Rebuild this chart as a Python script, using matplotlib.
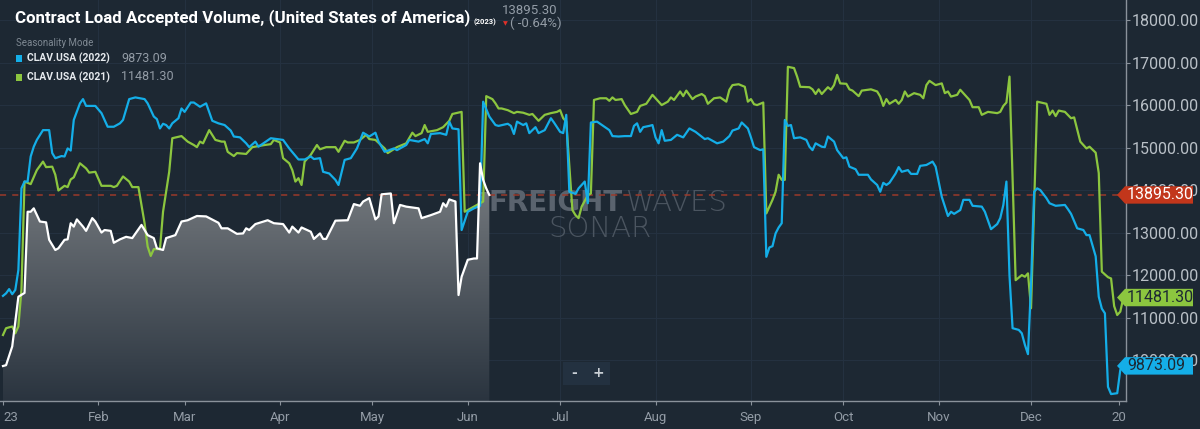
import numpy as np
import matplotlib as mpl
import matplotlib.pyplot as plt
from matplotlib.patches import Polygon, Rectangle
from matplotlib.transforms import blended_transform_factory
from matplotlib.colors import LinearSegmentedColormap

# day of year 2023 (0 = Jan 1) and contract load accepted volume
days_2023 = [0, 1, 3, 5, 7, 8, 9, 10, 12, 14, 15, 17, 18, 20, 21, 22, 23, 24, 26, 27,
             29, 30, 32, 33, 35, 36, 38, 40, 42, 45, 47, 49, 50, 52, 53, 56, 58, 60, 63, 66,
             70, 71, 73, 76, 78, 79, 80, 82, 86, 88, 91, 93, 94, 96, 97, 100, 101, 103, 104, 105,
             108, 112, 114, 116, 117, 119, 121, 122, 123, 126, 127, 129, 131, 135, 136, 139, 142, 143, 144, 145,
             147, 148, 149, 151, 153, 154, 155, 156, 157, 158]
clav_2023 = [9870, 9890, 10330, 11500, 11590, 13500, 13500, 13580, 13270, 13250,
             12840, 12600, 12640, 12840, 12850, 13230, 13150, 13320, 13150, 13050,
             13350, 13270, 13010, 13070, 13050, 12770, 12850, 12910, 12880, 13190,
             12950, 12880, 12640, 12600, 12880, 12950, 13270, 13300, 13400, 13390,
             13240, 13110, 13110, 12980, 12990, 13110, 13070, 13210, 13300, 13230,
             13210, 13010, 13150, 13010, 13130, 13030, 12860, 12990, 12860, 12860,
             13290, 13300, 13680, 13640, 13740, 13820, 13320, 13390, 13910, 13930,
             13230, 13660, 13620, 13580, 13350, 13420, 13500, 13700, 13620, 13790,
             13740, 11540, 11970, 12370, 12400, 12400, 14640, 14250, 14050, 13895.30]

days_2022 = [0, 1, 2, 3, 4, 5, 6, 7, 8, 9, 10, 11, 13, 15, 16, 17, 19, 20, 21, 22,
             23, 25, 26, 27, 30, 32, 34, 36, 38, 39, 41, 43, 46, 47, 49, 50, 51, 52, 53, 54,
             55, 57, 58, 59, 61, 62, 64, 66, 68, 70, 72, 74, 75, 77, 79, 80, 82, 83, 87, 91,
             93, 96, 98, 100, 101, 103, 104, 106, 108, 109, 111, 113, 115, 117, 119, 121, 122, 124, 127, 128,
             131, 132, 135, 137, 138, 139, 142, 144, 145, 146, 148, 149, 151, 153, 155, 156, 158, 160, 161, 164,
             165, 166, 167, 169, 170, 171, 173, 174, 176, 178, 179, 181, 182, 183, 184, 186, 187, 189, 190, 191,
             193, 195, 197, 198, 200, 202, 204, 205, 206, 207, 208, 210, 211, 212, 213, 214, 215, 217, 219, 221,
             223, 225, 228, 229, 231, 232, 234, 236, 237, 239, 240, 242, 243, 244, 246, 247, 248, 249, 250, 251,
             252, 253, 254, 255, 256, 257, 259, 261, 262, 263, 264, 266, 267, 268, 270, 271, 273, 274, 275, 277,
             278, 281, 282, 284, 285, 286, 287, 288, 290, 291, 292, 294, 295, 297, 298, 300, 302, 303, 305, 307,
             308, 309, 311, 312, 314, 315, 318, 319, 321, 323, 324, 325, 326, 327, 328, 330, 331, 332, 333, 334,
             335, 336, 337, 339, 340, 342, 345, 346, 347, 349, 351, 352, 353, 355, 356, 357, 358, 359, 360, 362,
             363, 364]
clav_2022 = [11520, 11580, 11680, 11560, 11660, 12130, 14050, 14210, 14210, 14800,
             15030, 15190, 15420, 15420, 14880, 14760, 14810, 14800, 14990, 14940,
             15660, 16050, 16150, 15990, 15990, 15820, 15500, 15500, 15580, 15660,
             16150, 16190, 16150, 16050, 15740, 15680, 15460, 15570, 15540, 15460,
             15580, 15700, 15930, 15850, 16070, 16070, 15970, 16050, 15640, 15580,
             15540, 15410, 15270, 15250, 15110, 15020, 15150, 15030, 15230, 15190,
             14990, 14730, 14730, 14800, 14740, 14760, 14440, 14400, 14250, 14130,
             14720, 14760, 14990, 15360, 15270, 15360, 15150, 14910, 14990, 14950,
             15070, 15190, 15150, 15210, 15110, 15330, 15350, 15310, 15620, 15460,
             15440, 13070, 13500, 13580, 13640, 16090, 15740, 15540, 15520, 15570,
             15520, 15330, 15620, 15540, 15580, 15350, 15490, 15350, 15420, 15700,
             15600, 15380, 15350, 15780, 13970, 13920, 14050, 14210, 13700, 15600,
             15620, 15520, 15420, 15280, 15270, 15280, 15280, 15520, 15580, 15380,
             15490, 15520, 15540, 15250, 15110, 15420, 15170, 15190, 15310, 15250,
             15460, 15380, 15210, 15230, 15150, 15110, 15150, 15280, 15410, 15460,
             15600, 15460, 15250, 15020, 14950, 14970, 12440, 12660, 12690, 12990,
             13130, 13230, 15660, 15520, 15540, 15230, 15250, 15190, 15030, 14950,
             15110, 15030, 15020, 15270, 15150, 14950, 14760, 14780, 14560, 14500,
             14370, 14370, 14260, 14130, 13970, 14180, 14130, 14180, 14400, 14550,
             14440, 14480, 14390, 14390, 14580, 14600, 14680, 14560, 13850, 13400,
             13500, 13450, 13540, 13780, 13780, 13640, 13620, 13500, 13090, 13210,
             13350, 13660, 14210, 12000, 10760, 10720, 10640, 10370, 10150, 11800,
             13970, 14050, 14010, 13820, 13700, 13640, 13660, 13560, 13450, 13110,
             13070, 12950, 12950, 12450, 11500, 11220, 11110, 9380, 9210, 9230,
             9780, 9873.09]

days_2021 = [0, 1, 3, 4, 5, 6, 7, 9, 11, 13, 14, 16, 17, 18, 20, 21, 22, 23, 25, 27,
             28, 30, 32, 35, 36, 37, 39, 41, 42, 44, 46, 47, 48, 49, 51, 52, 54, 55, 58, 60,
             62, 63, 64, 65, 67, 69, 71, 72, 73, 75, 76, 79, 80, 81, 85, 87, 88, 90, 91, 93,
             94, 95, 96, 97, 98, 100, 102, 103, 105, 108, 109, 111, 112, 114, 116, 118, 119, 121, 124, 125,
             128, 131, 133, 134, 136, 137, 138, 141, 143, 145, 146, 149, 150, 152, 153, 155, 156, 157, 159, 160,
             161, 162, 164, 166, 167, 169, 171, 172, 174, 176, 178, 180, 181, 182, 183, 185, 186, 187, 188, 190,
             191, 192, 194, 196, 197, 198, 199, 201, 202, 204, 206, 207, 209, 211, 213, 214, 216, 217, 218, 220,
             221, 222, 224, 225, 227, 228, 229, 231, 233, 235, 236, 237, 239, 241, 242, 243, 244, 245, 246, 247,
             248, 250, 251, 252, 253, 254, 255, 257, 258, 259, 262, 263, 264, 265, 266, 268, 269, 270, 271, 272,
             274, 275, 276, 278, 279, 282, 284, 285, 286, 287, 288, 290, 291, 292, 293, 294, 296, 298, 299, 300,
             301, 303, 305, 306, 307, 308, 310, 311, 312, 314, 315, 317, 318, 320, 323, 324, 325, 326, 327, 329,
             331, 332, 333, 334, 336, 339, 340, 341, 342, 343, 345, 347, 348, 350, 352, 353, 355, 356, 357, 359,
             360, 361, 362, 363, 364]
clav_2021 = [10600, 10760, 10800, 10640, 10800, 11660, 14210, 14150, 14480, 14680,
             14550, 14560, 14370, 14000, 14110, 14080, 14260, 14310, 14640, 14520,
             14420, 14440, 14110, 14110, 14080, 14110, 14330, 14210, 14080, 14080,
             13230, 12680, 12460, 12620, 12620, 13500, 14440, 15230, 15280, 15150,
             15070, 15020, 15150, 15110, 15420, 15190, 15150, 15150, 14910, 14810,
             14880, 14860, 14940, 15020, 15070, 15090, 15190, 15130, 14760, 14640,
             14480, 14210, 14290, 14130, 14680, 14840, 15070, 14970, 15020, 15020,
             14910, 15170, 15130, 15130, 15190, 15310, 15210, 15190, 14990, 14880,
             15020, 15110, 15360, 15280, 15350, 15540, 15380, 15420, 15490, 15640,
             15800, 15850, 13500, 13580, 13620, 13700, 13740, 16220, 16150, 16050,
             15930, 15930, 15890, 15820, 15850, 15830, 15780, 15800, 15640, 15780,
             15820, 15850, 15890, 15700, 15620, 13540, 13420, 13350, 13620, 13890,
             13930, 16130, 16170, 16170, 16110, 16190, 16130, 16150, 16010, 15800,
             15850, 15990, 16040, 16250, 16090, 16010, 16090, 16190, 16130, 16330,
             16220, 16350, 16150, 16210, 16270, 16220, 16040, 16170, 16190, 16090,
             16370, 16480, 16500, 16440, 16090, 16150, 16030, 16010, 16040, 16070,
             13460, 13780, 13970, 14370, 14250, 14250, 16910, 16880, 16680, 16440,
             16430, 16380, 16270, 16380, 16270, 16430, 16370, 16480, 16720, 16520,
             16510, 16380, 16350, 16220, 16350, 16380, 16330, 16210, 15990, 16150,
             16040, 16130, 16040, 16130, 16330, 16210, 16290, 16250, 16170, 16480,
             16580, 16480, 16520, 16290, 16330, 16210, 16250, 16370, 16290, 16130,
             15960, 15960, 15780, 15850, 15820, 15850, 15990, 16070, 16680, 11890,
             12010, 11970, 12050, 11230, 16090, 16040, 15780, 15880, 15750, 15880,
             15850, 15700, 15720, 15150, 14990, 15030, 14890, 14410, 12090, 11960,
             11930, 11280, 11070, 11150, 11481.30]

month_days = [0, 31, 59, 90, 120, 151, 181, 212, 243, 273, 304, 334, 362.6]
month_labels = ["23", "Feb", "Mar", "Apr", "May", "Jun", "Jul", "Aug", "Sep", "Oct", "Nov", "Dec", "20"]
y_ticks = [10000, 11000, 12000, 13000, 14000, 15000, 16000, 17000, 18000]

bg = "#1d2833"
blue = "#14aee8"
green = "#8cc63f"
red = "#c2361b"
grey_txt = "#939ca6"

W, H = 1200, 429


def px(x, y):
    """pixel position (from top left) to figure fraction"""
    return x / W, 1 - y / H


fig = plt.figure(figsize=(W / 100, H / 100), dpi=100, facecolor=bg)
ax = fig.add_axes([0, 28 / H, 1126 / W, 401 / H], facecolor=bg)

# faint grid
for d in month_days[1:-1]:
    ax.axvline(d, color="#243140", lw=0.8, zorder=0)
for v in y_ticks:
    ax.axhline(v, color="#243140", lw=0.8, zorder=0)

# gradient fill under the 2023 series
ymin = 9047
poly = ax.fill_between(days_2023, clav_2023, ymin, color="none", lw=0)
cmap = LinearSegmentedColormap.from_list("fill", ["#2a343f", "#70757a"])
grad = np.linspace(0, 1, 256).reshape(-1, 1)
img = ax.imshow(grad, cmap=cmap, aspect="auto", origin="lower",
                extent=[days_2023[0] - 1, days_2023[-1], ymin, 13950], zorder=2)
img.set_clip_path(poly.get_paths()[0], ax.transData)
ax.set_xlim(-0.97, 364.85)
ax.set_ylim(ymin, 18482)

ax.axhline(clav_2023[-1], color="#9b3a2b", lw=1.1, ls=(0, (4, 4)), zorder=3)

ax.plot(days_2021, clav_2021, color=green, lw=1.6, zorder=4)
ax.plot(days_2022, clav_2022, color=blue, lw=1.6, zorder=5)
ax.plot(days_2023, clav_2023, color="white", lw=1.6, zorder=6)

# axes styling
for s in ["top", "left"]:
    ax.spines[s].set_visible(False)
for s in ["right", "bottom"]:
    ax.spines[s].set_color("#8a929b")
    ax.spines[s].set_linewidth(1.0)
ax.yaxis.tick_right()
ax.set_yticks(y_ticks)
ax.set_yticklabels([f"{v:.2f}" for v in y_ticks])
ax.tick_params(axis="y", colors="#8a929b", labelcolor="#b9c0c7", labelsize=11.5,
               length=3, pad=1, labelfontfamily="Roboto")
ax.set_xticks(month_days)
ax.set_xticklabels(month_labels)
ax.tick_params(axis="x", colors="#8a929b", labelcolor=grey_txt, labelsize=9.5,
               length=3, pad=4, labelfontfamily="Roboto")
ax.get_xticklabels()[0].set_ha("left")

# value tags on the right axis
trans = blended_transform_factory(fig.transFigure, ax.transData)
hh = 205
for val, col, tcol in [(clav_2023[-1], red, "white"), (clav_2021[-1], green, "#1d2833"),
                       (clav_2022[-1], blue, "#1d2833")]:
    x0, x1, x2 = 1117 / W, 1125 / W, 1193 / W
    tag = Polygon([[x0, val], [x1, val + hh], [x2, val + hh], [x2, val - hh], [x1, val - hh]],
                  closed=True, transform=trans, facecolor=col, edgecolor="none",
                  clip_on=False, zorder=10)
    ax.add_patch(tag)
    ax.text(1127 / W, val, f"{val:.2f}", transform=trans, color=tcol, fontsize=11.5,
            va="center", ha="left", family="Roboto", clip_on=False, zorder=11)

# zoom buttons
fig.patches.append(Rectangle(px(563, 385), 47 / W, 23 / H, transform=fig.transFigure,
                             facecolor="#233140", edgecolor="none", zorder=20))
fig.text(*px(574, 373), "-", color="#c9cfd5", fontsize=10, fontweight="bold",
         ha="center", va="center", zorder=21)
fig.text(*px(598, 373), "+", color="#c9cfd5", fontsize=10, fontweight="bold",
         ha="center", va="center", zorder=21)

# title and legend
title = fig.text(*px(15, 18), "Contract Load Accepted Volume, (United States of America)",
                 color="white", fontsize=12.2, fontweight="bold", ha="left", va="center",
                 family=["Liberation Sans Narrow", "Roboto"])

# watermark
wm1 = ax.text(*px(489, 203), "FREIGHT", transform=fig.transFigure, fontsize=20,
              fontweight="bold", color="#5a636e", ha="left", va="center",
              family="DejaVu Sans", zorder=1)

fig.canvas.draw()
bb = title.get_window_extent()
wb = wm1.get_window_extent()
ax.text((wb.x1 + 3) / W, 1 - 203 / H, "WAVES", transform=fig.transFigure, fontsize=21,
        fontweight="light", color="#4b5560", ha="left", va="center",
        family="DejaVu Sans", zorder=1)
ax.text(*px(600, 229), "SONAR", transform=fig.transFigure, fontsize=21,
        fontweight="light", color="#4b5560", ha="center", va="center",
        family="DejaVu Sans", zorder=1)

fig.text((bb.x1 + 3) / W, 1 - 22 / H, "(2023)", color="white", fontsize=5.5,
         fontweight="bold", ha="left", va="center", family="Roboto")
fig.text((bb.x1 + 32) / W, 1 - 10 / H, "13895.30", color=grey_txt, fontsize=9.5,
         ha="left", va="center", family="Roboto")
fig.text((bb.x1 + 33) / W, 1 - 24 / H, "▼", color="#e0312a", fontsize=4.5,
         ha="left", va="center", family="DejaVu Sans")
fig.text((bb.x1 + 40) / W, 1 - 23 / H, "( -0.64%)", color=grey_txt, fontsize=9.5,
         ha="left", va="center", family="Roboto")

fig.text(*px(16, 43), "Seasonality Mode", color="#7f8993", fontsize=7, ha="left",
         va="center", family="Roboto")
for yy, col, name, val in [(58, blue, "CLAV.USA (2022)", clav_2022[-1]),
                           (77, green, "CLAV.USA (2021)", clav_2021[-1])]:
    fig.patches.append(Rectangle(px(16, yy + 3.5), 6 / W, 7 / H, transform=fig.transFigure,
                                 facecolor=col, edgecolor="none"))
    fig.text(*px(27, yy), name, color="#e6eaee", fontsize=7.5, fontweight="bold",
             ha="left", va="center", family="Roboto")
    fig.text(*px(121, yy), f"{val:.2f}", color=grey_txt, fontsize=9, ha="left",
             va="center", family="Roboto")

fig.savefig("out.png", dpi=100, facecolor=bg)
